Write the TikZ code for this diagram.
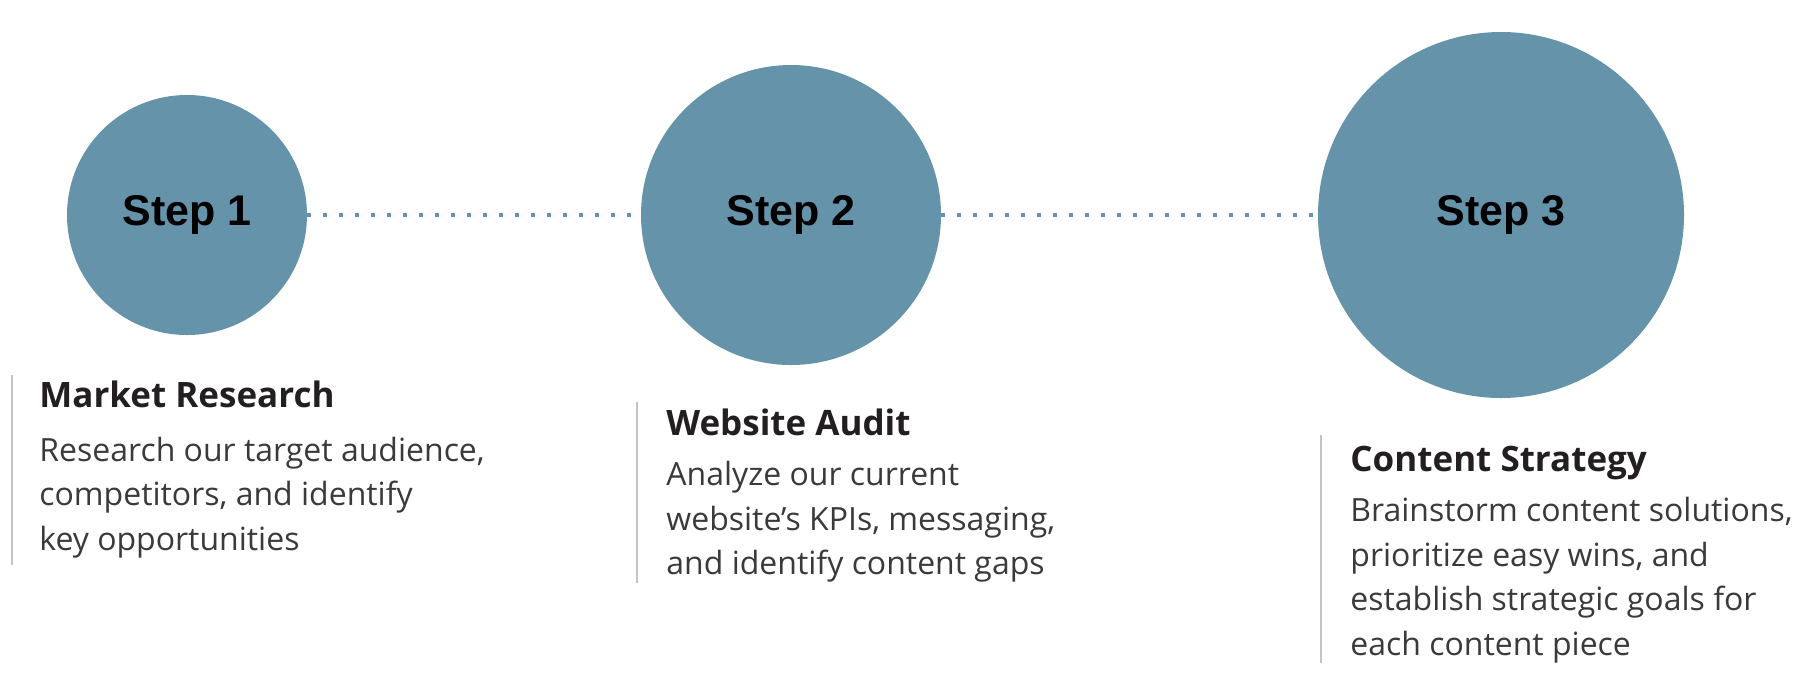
\documentclass[tikz,border=0pt]{standalone}
\usepackage{fontspec}
\setmainfont{Open Sans}
\newfontfamily\stepfont{Liberation Sans}
\definecolor{circfill}{HTML}{6594AA}
\definecolor{titlecol}{HTML}{231F20}
\definecolor{bodycol}{HTML}{3A3A3A}
\definecolor{barcol}{HTML}{C4C4C4}
\tikzset{
  stepcircle/.style={circle, fill=circfill, draw=none, inner sep=0pt,
    font=\stepfont\bfseries\fontsize{21.5}{26}\selectfont, text=black},
  dotline/.style={draw=circfill, line width=1.75pt, dash pattern=on 1.75pt off 6.25pt},
  titletext/.style={anchor=base west, inner sep=0pt, text=titlecol,
    font=\bfseries\fontsize{17.5}{21}\selectfont},
  bodytext/.style={anchor=north west, inner sep=0pt, text=bodycol, align=left,
    font=\fontsize{16}{22.3}\selectfont},
  sidebar/.style={draw=barcol, line width=1pt}
}
\begin{document}
\begin{tikzpicture}[x=0.5pt, y=-0.5pt]
\useasboundingbox (0,0) rectangle (1803,692);
% circles
\node[stepcircle, minimum size=120pt] (c1) at (187,215) {Step 1};
\node[stepcircle, minimum size=150pt] (c2) at (791,215) {Step 2};
\node[stepcircle, minimum size=183pt] (c3) at (1501,215) {Step 3};
% connectors
\draw[dotline] (c1) -- (c2);
\draw[dotline] (c2) -- (c3);
% group 1
\coordinate (a1) at (12,375);
\coordinate (z1) at (12,565);
\draw[sidebar] (a1) -- (z1);
\node[titletext] (t1) at (39,407) {Market Research};
\node[bodytext] (d1) at (39,436.5) {Research our target audience,\\competitors, and identify\\key opportunities};
% group 2
\coordinate (a2) at (637,402);
\coordinate (z2) at (637,583);
\draw[sidebar] (a2) -- (z2);
\node[titletext] (t2) at (666,435) {Website Audit};
\node[bodytext] (d2) at (666,461) {Analyze our current\\website’s KPIs, messaging,\\and identify content gaps};
% group 3
\coordinate (a3) at (1321,435);
\coordinate (z3) at (1321,663);
\draw[sidebar] (a3) -- (z3);
\node[titletext] (t3) at (1350,471) {Content Strategy};
\node[bodytext] (d3) at (1350,497) {Brainstorm content solutions,\\prioritize easy wins, and\\establish strategic goals for\\each content piece};
\end{tikzpicture}
\end{document}
